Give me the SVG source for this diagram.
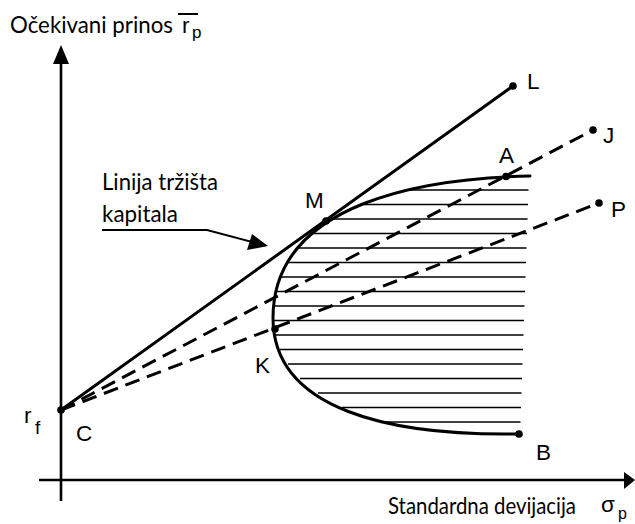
<svg xmlns="http://www.w3.org/2000/svg" width="635" height="524" viewBox="0 0 635 524">
<style>
.ax{stroke:#000;stroke-width:2.6;fill:none}
.sol{stroke:#000;stroke-width:3;fill:none;stroke-linecap:round}
.dash{stroke:#000;stroke-width:3;fill:none;stroke-dasharray:15 8}
.hat{stroke:#000;stroke-width:1.6}
.lbl{font-family:"Liberation Sans",Arial,sans-serif;font-size:22.5px;fill:#000}
.cal{font-family:Lato,"Open Sans",sans-serif;font-size:23px;fill:#000}
.dot{fill:#000}
</style>
<rect width="635" height="524" fill="#fff"/>
<g id="axes">
<line class="ax" x1="61" y1="62" x2="61" y2="501"/>
<polygon points="61,45 53,64 69,64" fill="#000"/>
<line class="ax" x1="39" y1="480" x2="627" y2="480"/>
<polygon points="635,480 624,472 624,489" fill="#000"/>
</g>
<g id="hatching">
<line class="hat" x1="407" y1="190" x2="528.5" y2="190"/>
<line class="hat" x1="360" y1="204.5" x2="528" y2="204.5"/>
<line class="hat" x1="331" y1="219" x2="527.5" y2="219"/>
<line class="hat" x1="312" y1="233.5" x2="527" y2="233.5"/>
<line class="hat" x1="298" y1="248" x2="526.5" y2="248"/>
<line class="hat" x1="288" y1="262.5" x2="526" y2="262.5"/>
<line class="hat" x1="281" y1="277" x2="525.5" y2="277"/>
<line class="hat" x1="276" y1="291.5" x2="525" y2="291.5"/>
<line class="hat" x1="273.5" y1="306" x2="524.5" y2="306"/>
<line class="hat" x1="273" y1="320.5" x2="524" y2="320.5"/>
<line class="hat" x1="275" y1="335" x2="523.5" y2="335"/>
<line class="hat" x1="280" y1="349.5" x2="523" y2="349.5"/>
<line class="hat" x1="288" y1="364" x2="522.5" y2="364"/>
<line class="hat" x1="300" y1="378.5" x2="522" y2="378.5"/>
<line class="hat" x1="318" y1="393" x2="521.5" y2="393"/>
<line class="hat" x1="342" y1="407.5" x2="521" y2="407.5"/>
<line class="hat" x1="380" y1="422" x2="520.5" y2="422"/>
</g>
<g id="frontier">
<path class="sol" d="M530,176 C430,178 273,200 273,318 C273,410 390,436 519,434"/>
</g>
<g id="connectors">
<line class="sol" x1="61" y1="410" x2="513" y2="86"/>
<line class="dash" x1="61" y1="410" x2="593" y2="130"/>
<line class="dash" x1="61" y1="410" x2="599" y2="203"/>
<polyline points="102,230 207,230 258,243.5" fill="none" stroke="#000" stroke-width="2"/>
<polygon points="268,246 247,250 252,234" fill="#000"/>
</g>
<g id="node-C"><circle class="dot" cx="61" cy="410" r="3.8"/><text class="lbl" x="76" y="441">C</text></g>
<g id="node-L"><circle class="dot" cx="513" cy="86" r="3.8"/><text class="lbl" x="527" y="89">L</text></g>
<g id="node-J"><circle class="dot" cx="593" cy="130" r="3.8"/><text class="lbl" x="603" y="143">J</text></g>
<g id="node-A"><circle class="dot" cx="506" cy="176.5" r="3.8"/><text class="lbl" x="499" y="163">A</text></g>
<g id="node-P"><circle class="dot" cx="599" cy="203" r="3.8"/><text class="lbl" x="611" y="217">P</text></g>
<g id="node-M"><circle class="dot" cx="326" cy="221" r="3.8"/><text class="lbl" x="305" y="208">M</text></g>
<g id="node-K"><circle class="dot" cx="275" cy="329" r="3.8"/><text class="lbl" x="255" y="373">K</text></g>
<g id="node-B"><circle class="dot" cx="519" cy="434" r="3.8"/><text class="lbl" x="536" y="460">B</text></g>
<g id="labels">
<text class="cal" x="10" y="33" textLength="163" lengthAdjust="spacingAndGlyphs">Očekivani prinos</text>
<line x1="178" y1="14" x2="198" y2="14" stroke="#000" stroke-width="2"/>
<text class="lbl" x="182" y="33" font-size="25">r<tspan x="192" y="38" font-size="17">p</tspan></text>
<text class="lbl" x="24" y="423" font-size="26">r<tspan x="35" y="434" font-size="19">f</tspan></text>
<text class="cal" x="102" y="190" textLength="116" lengthAdjust="spacingAndGlyphs">Linija tržišta</text>
<text class="cal" x="102" y="222" textLength="76" lengthAdjust="spacingAndGlyphs">kapitala</text>
<text class="cal" x="388" y="514" font-size="21" textLength="188" lengthAdjust="spacingAndGlyphs">Standardna devijacija</text>
<text class="lbl" x="601" y="512" font-size="25">σ<tspan x="618" y="519" font-size="16">p</tspan></text>
</g>
</svg>
